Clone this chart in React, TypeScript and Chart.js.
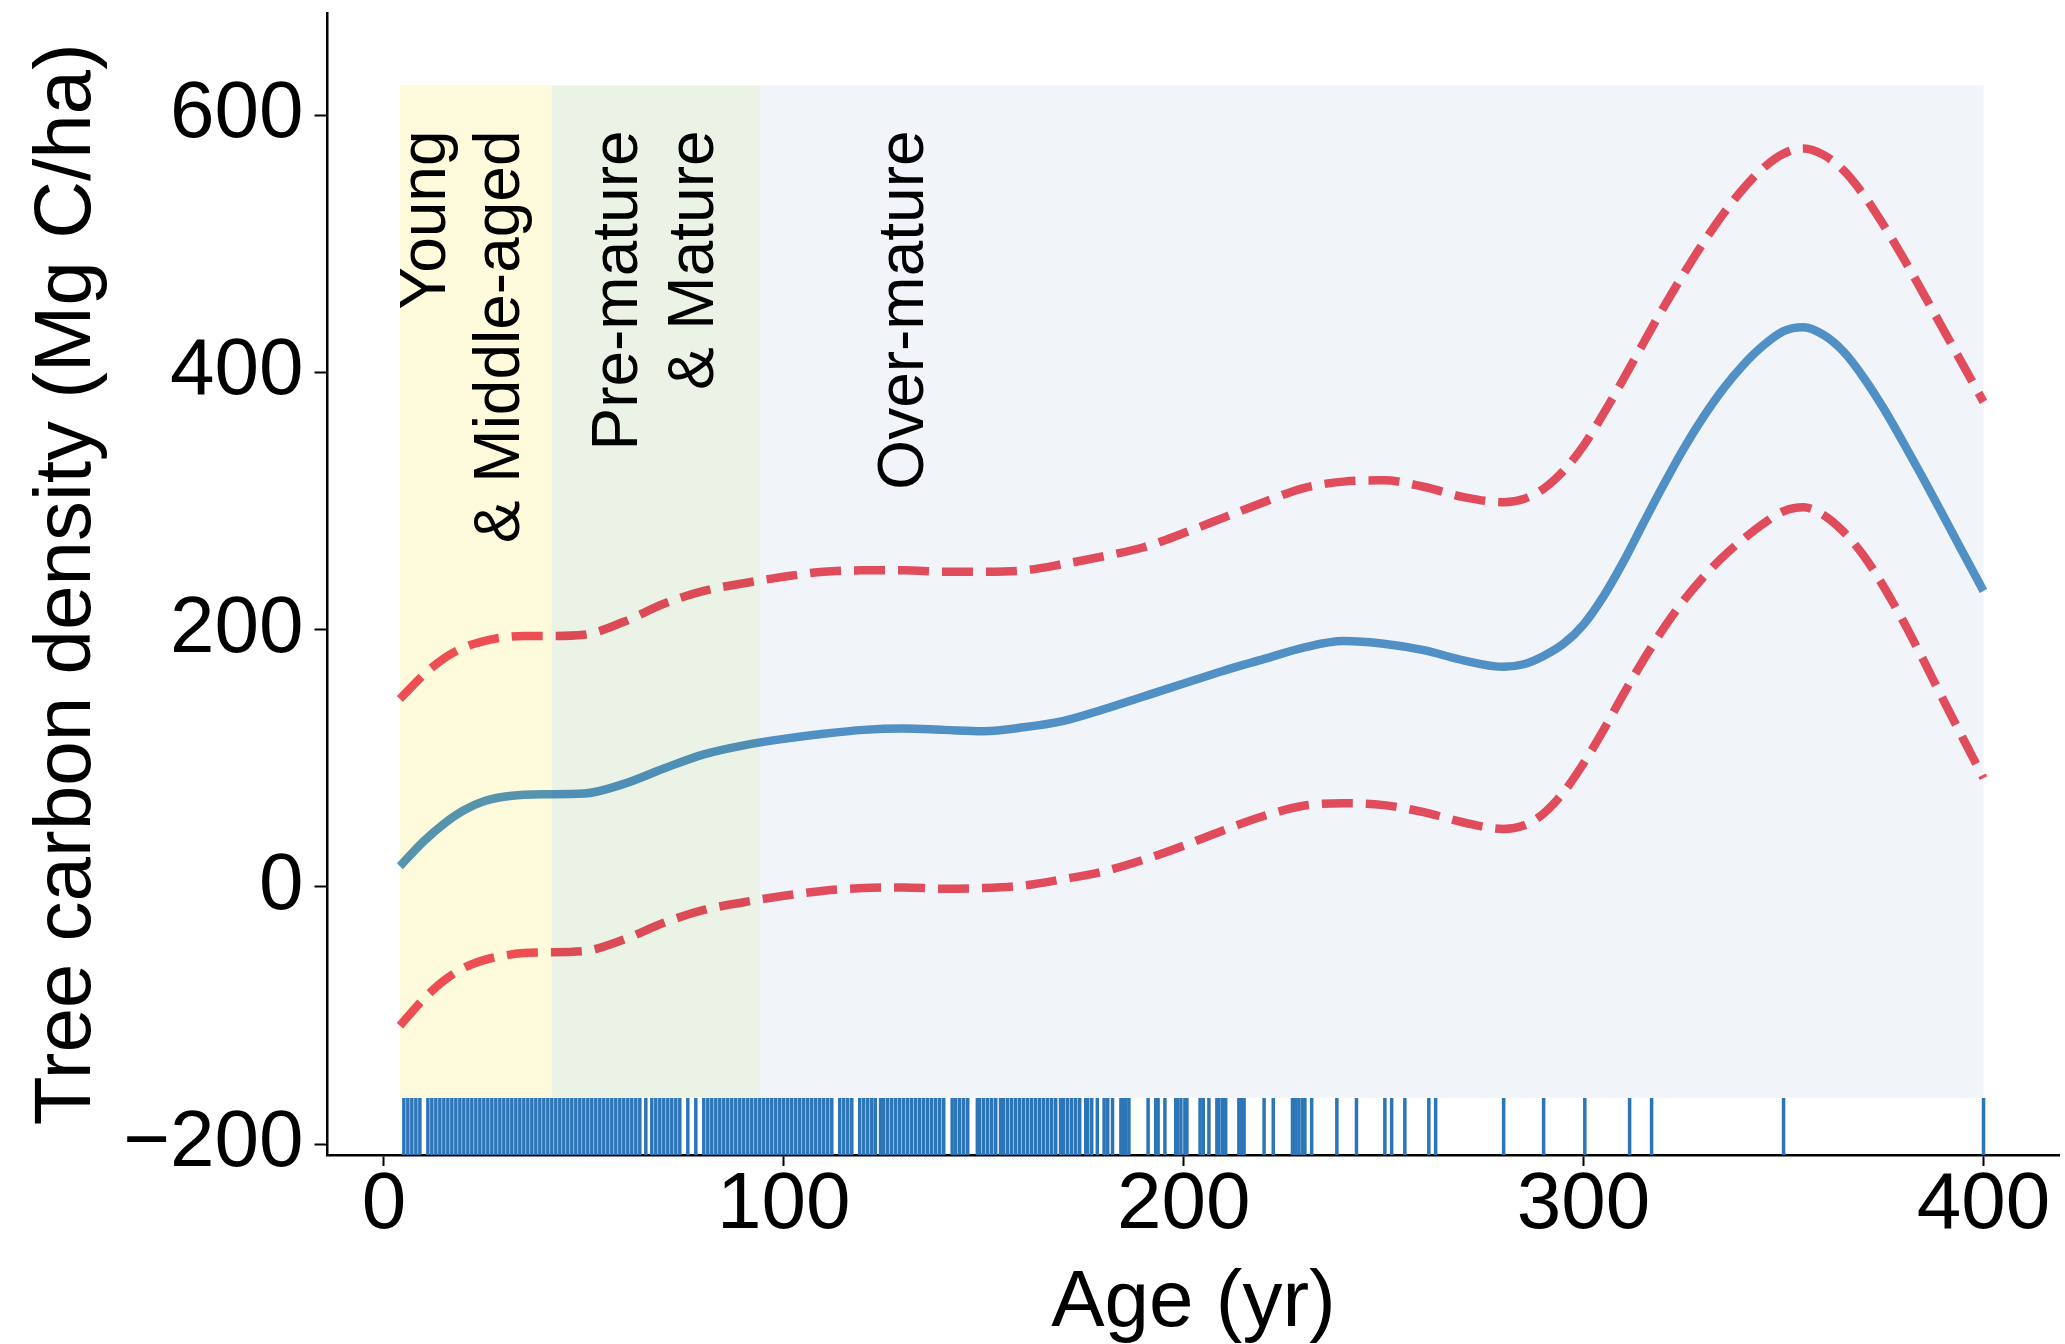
import React, { useEffect, useRef } from 'react';
import { Chart, registerables } from 'chart.js';

Chart.register(...registerables);

// ---- Data ----
const ages = [
  4, 10, 15, 20, 25, 30, 35, 40, 50, 60, 70, 80, 90, 100, 110, 120, 130, 140, 150, 160, 170, 180,
  190, 200, 210, 220, 230, 240, 250, 260, 270, 280, 285, 290, 295, 300, 305, 310, 315, 320, 325,
  330, 335, 340, 345, 350, 355, 360, 365, 370, 375, 380, 385, 390, 395, 400,
];

const fittedDensity = [
  16, 35.5, 49, 59.5, 66.5, 70, 71.5, 72, 72.5, 80, 92, 103, 110, 115, 119, 122, 123, 122, 121,
  124, 129, 138, 148, 158, 168, 177, 186, 191, 189, 184, 176, 171, 173, 179.5, 189, 204, 226, 253,
  283, 312.5, 340.5, 365.5, 387.5, 406, 421, 432, 435, 429, 416, 396, 372, 345, 317, 288, 259, 230,
];

const upperBound = [
  146, 165, 177.5, 186, 191, 194, 195, 195, 196, 206, 220, 230, 236, 241, 245, 246, 246, 245, 245,
  246, 251, 257, 264, 275, 287, 299, 310, 315, 316, 311, 303, 299, 301.5, 309.5, 323.5, 343, 368,
  395, 423, 450.5, 476.5, 501, 523.5, 543, 559, 570, 574, 569, 557, 538, 514.5, 488.5, 461, 433,
  405, 377,
];

const lowerBound = [
  -108, -87, -73, -63, -57, -53.5, -51.5, -51, -50, -41, -28, -18, -12, -7, -3, -1, -0.5, -1.5, -1,
  1, 6, 12, 21, 32, 44, 55, 63, 65, 63.5, 58, 50, 45, 47.6, 57, 73.5, 96, 122, 150, 176.5, 201,
  222.5, 241, 257, 270.5, 282.5, 292, 295, 289, 276, 257.5, 233.5, 206, 176, 145, 114.5, 84.5,
];

const rugAges = [
  5, 6, 7, 8, 9, 11, 12, 13, 14, 15, 16, 17, 18, 19, 20, 21, 22, 23, 24, 25, 26, 27, 28, 29, 30,
  31, 32, 33, 34, 35, 36, 37, 38, 39, 40, 41, 42, 43, 44, 45, 46, 47, 48, 49, 50, 51, 52, 53, 54,
  55, 56, 57, 58, 59, 60, 61, 62, 63, 64, 65.5, 67, 68, 69, 70, 71, 72, 73, 74, 76, 78,
  80, 81, 82, 83, 84, 85, 86, 87, 88, 89, 90, 91, 92, 93, 94, 95, 96, 97, 98, 99, 100, 101, 102,
  103, 104, 105, 106, 107, 108, 109, 110, 111, 112, 114, 115, 116, 117, 119, 120, 121, 122, 122.9,
  124.2, 125, 126, 127, 128, 129, 130, 131, 132, 133, 134, 135, 136, 137, 138, 139, 140,
  142.1, 143, 144, 145, 146, 148.4, 149, 150, 151, 152, 153, 154.2, 155, 156, 157, 158, 159, 160,
  161, 162, 163, 164, 165, 166, 167, 168, 169.2, 170, 171, 172, 173, 174, 175.5, 176, 177, 178.4,
  180.1, 181, 182.2, 184.3, 184.9, 185.5, 186.3, 191.1, 193, 193.6, 195.3, 198, 198.4, 199.3,
  200.3, 200.8, 204.1, 204.9, 206.3, 208.3, 208.8, 209.7, 210.5, 213.8, 214.4, 215.1, 220.1,
  222.4, 227.2, 228, 228.8, 229.7, 230.3, 232, 238.3, 243.2, 250.3, 252, 255.3, 261.3, 263,
  280, 290, 300.3, 311.5, 317, 350, 400,
];

const xTickValues = [0, 100, 200, 300, 400];
const yTickValues = [-200, 0, 200, 400, 600];

const stageBands = [
  { from: 4, to: 42, color: '#fdfbdc' },
  { from: 42, to: 94, color: '#ebf3e7' },
  { from: 94, to: 400, color: '#f1f5fa' },
];

const stageLabelLines = [
  { text: 'Young', age: 15.4 },
  { text: '& Middle-aged', age: 33.9 },
  { text: 'Pre-mature', age: 63.4 },
  { text: '& Mature', age: 82.4 },
  { text: 'Over-mature', age: 134.9 },
];

// ---- Style / layout constants ----
const FONT = '"Liberation Sans", Arial, Helvetica, sans-serif';
const BLUE = '#5596c8';
const RED = '#ee4f5e';
const RUG = '#2c76b8';
const X_MIN = -14.1;
const X_MAX = 419;
const Y_MIN = -208.5;
const Y_MAX = 679;
const BAND_TOP = 623;
const BAND_BOTTOM = -164;
const RUG_CENTER = -186.25;
const LABEL_TOP = 588;

const zeroPadding = () => ({ left: 0, top: 0, right: 0, bottom: 0 });

const bandsPlugin = {
  id: 'stageBands',
  beforeDraw(chart: any) {
    const { ctx, width, height } = chart;
    ctx.save();
    ctx.fillStyle = '#ffffff';
    ctx.fillRect(0, 0, width, height);
    ctx.restore();
  },
  afterDatasetsDraw(chart: any) {
    const { ctx } = chart;
    const xs = chart.scales.x;
    const ys = chart.scales.y;
    ctx.save();
    ctx.globalCompositeOperation = 'multiply';
    const yTop = ys.getPixelForValue(BAND_TOP);
    const yBot = ys.getPixelForValue(BAND_BOTTOM);
    for (const b of stageBands) {
      const x0 = xs.getPixelForValue(b.from);
      const x1 = xs.getPixelForValue(b.to);
      ctx.fillStyle = b.color;
      ctx.fillRect(x0, yTop, x1 - x0, yBot - yTop);
    }
    ctx.restore();

    ctx.save();
    ctx.fillStyle = '#000000';
    ctx.font = `64px ${FONT}`;
    ctx.textAlign = 'right';
    ctx.textBaseline = 'alphabetic';
    const topPx = ys.getPixelForValue(LABEL_TOP);
    for (const l of stageLabelLines) {
      const px = xs.getPixelForValue(l.age);
      ctx.save();
      ctx.translate(px, topPx);
      ctx.rotate(-Math.PI / 2);
      ctx.fillText(l.text, 0, 0);
      ctx.restore();
    }
    ctx.restore();
  },
};

export default function App() {
  const canvasRef = useRef<HTMLCanvasElement | null>(null);

  useEffect(() => {
    const canvas = canvasRef.current;
    if (!canvas) return;

    const curve = (values: number[], color: string, dashed: boolean) => ({
      type: 'line' as const,
      data: ages.map((a, i) => ({ x: a, y: values[i] })),
      borderColor: color,
      borderWidth: 8.5,
      borderDash: dashed ? [31, 13] : [],
      borderCapStyle: 'butt' as const,
      pointRadius: 0,
      pointHoverRadius: 0,
      cubicInterpolationMode: 'monotone' as const,
      fill: false,
    });

    const chart = new Chart(canvas, {
      type: 'line',
      data: {
        datasets: [
          curve(fittedDensity, BLUE, false) as any,
          curve(upperBound, RED, true) as any,
          curve(lowerBound, RED, true) as any,
          {
            type: 'scatter',
            data: rugAges.map((a) => ({ x: a, y: RUG_CENTER })),
            pointStyle: 'line',
            rotation: 90,
            pointRadius: 28.5,
            pointHoverRadius: 28.5,
            borderColor: RUG,
            backgroundColor: RUG,
            pointBorderWidth: 3.5,
            borderWidth: 3.5,
          } as any,
        ],
      },
      options: {
        responsive: false,
        animation: false,
        devicePixelRatio: 1,
        events: [],
        layout: { autoPadding: false, padding: { left: 0, right: 5.5, top: 13.4, bottom: 0 } },
        plugins: {
          legend: { display: false },
          tooltip: { enabled: false },
        },
        scales: {
          x: {
            type: 'linear',
            min: X_MIN,
            max: X_MAX,
            afterFit: (s: any) => {
              s.height = 189;
              s.paddingLeft = 0;
              s.paddingRight = 0;
              s.paddingTop = 0;
              s.paddingBottom = 0;
              s.getPadding = zeroPadding;
            },
            afterBuildTicks: (s: any) => {
              s.ticks = xTickValues.map((v) => ({ value: v }));
            },
            grid: {
              drawOnChartArea: false,
              drawTicks: true,
              tickLength: 11,
              tickColor: '#000000',
              tickWidth: 2,
            },
            border: { display: true, color: '#000000', width: 2.5 },
            ticks: {
              color: '#000000',
              font: { family: FONT, size: 80, lineHeight: 1 },
              padding: 0,
              maxRotation: 0,
              autoSkip: false,
              callback: (v: any) => String(v),
            },
            title: {
              display: true,
              text: 'Age (yr)',
              color: '#000000',
              font: { family: FONT, size: 80, lineHeight: 1 },
              padding: { top: 7, bottom: 0 },
            },
          },
          y: {
            type: 'linear',
            min: Y_MIN,
            max: Y_MAX,
            afterFit: (s: any) => {
              s.width = 327.5;
              s.paddingLeft = 0;
              s.paddingRight = 0;
              s.paddingTop = 0;
              s.paddingBottom = 0;
              s.getPadding = zeroPadding;
            },
            afterBuildTicks: (s: any) => {
              s.ticks = yTickValues.map((v) => ({ value: v }));
            },
            grid: {
              drawOnChartArea: false,
              drawTicks: true,
              tickLength: 13,
              tickColor: '#000000',
              tickWidth: 2,
            },
            border: { display: true, color: '#000000', width: 2.5 },
            ticks: {
              color: '#000000',
              font: { family: FONT, size: 80, lineHeight: 1 },
              padding: 11,
              autoSkip: false,
              callback: (v: any) => (Number(v) < 0 ? '\u2212' + Math.abs(Number(v)) : String(v)),
            },
            title: {
              display: true,
              text: 'Tree carbon density (Mg C/ha)',
              color: '#000000',
              font: { family: FONT, size: 80, lineHeight: 1 },
              padding: { top: 28, bottom: 0 },
            },
          },
        },
      },
      plugins: [bandsPlugin],
    });

    return () => {
      chart.destroy();
    };
  }, []);

  return (
    <div style={{ position: 'fixed', left: 0, top: 0, width: 2065, height: 1344, background: '#ffffff' }}>
      <canvas ref={canvasRef} width={2065} height={1344} style={{ display: 'block', width: 2065, height: 1344 }} />
    </div>
  );
}
